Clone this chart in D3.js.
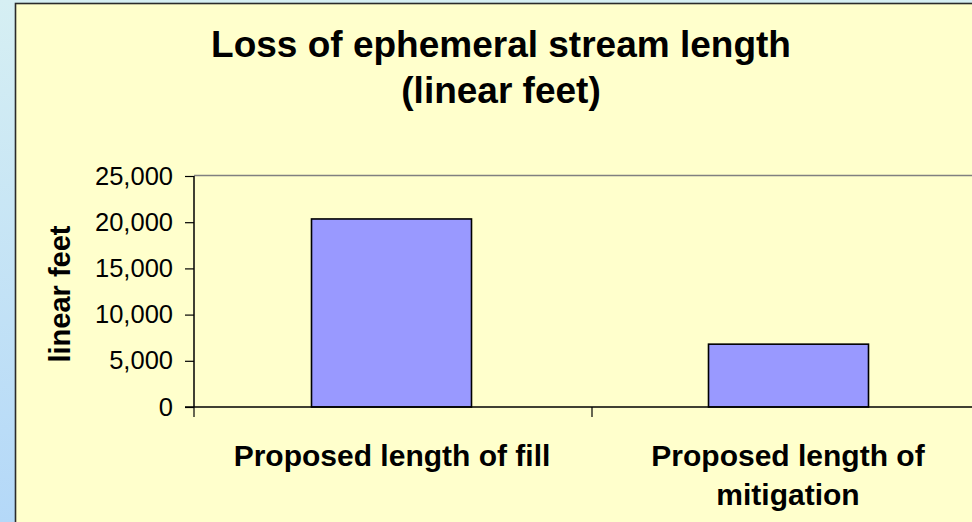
<!DOCTYPE html>
<head>
  <meta charset="utf-8">
  <title>Loss of ephemeral stream length</title>
  <style>
    body { margin: 0; width: 972px; height: 522px; overflow: hidden; }
    svg text { font-family: 'Liberation Sans', Arial, sans-serif; fill: #000; }
  </style>
</head>
<body>
  <script src="https://cdn.jsdelivr.net/npm/d3@7/dist/d3.min.js"></script>
  <script>
    // chart values
    var categories = [["Proposed length of fill"], ["Proposed length of", "mitigation"]];
    var values = [20350, 6800];
    var tickValues = [0, 5000, 10000, 15000, 20000, 25000];

    var W = 972, H = 522;
    var plot = { left: 194, right: 990, top: 176, bottom: 407 };

    var svg = d3.select("body").append("svg")
      .attr("width", W)
      .attr("height", H);

    //background gradient behind the chart panel
    var grad = svg.append("defs").append("linearGradient")
      .attr("id", "bg")
      .attr("x1", 0).attr("y1", 0).attr("x2", 0).attr("y2", 1);
    grad.append("stop").attr("offset", "0%").attr("stop-color", "#d6eff3");
    grad.append("stop").attr("offset", "100%").attr("stop-color", "#b4d8f8");

    svg.append("rect")
      .attr("width", W).attr("height", H)
      .attr("fill", "url(#bg)");

    //the yellow chart panel, runs off the right and bottom edge
    svg.append("rect")
      .attr("x", 15.5).attr("y", 3.5)
      .attr("width", W + 20).attr("height", H + 20)
      .attr("fill", "#ffffcc")
      .attr("stroke", "#2b2b2b")
      .attr("stroke-width", 1.6);

    var x = d3.scaleBand()
      .domain(d3.range(categories.length))
      .range([plot.left, plot.right])
      .paddingInner(0).paddingOuter(0);

    var y = d3.scaleLinear()
      .domain([0, 25000])
      .range([plot.bottom, plot.top]);

    //top border of the plot area
    svg.append("line")
      .attr("x1", plot.left).attr("x2", W)
      .attr("y1", y(25000) - 0.5).attr("y2", y(25000) - 0.5)
      .attr("stroke", "#808080")
      .attr("stroke-width", 1.5);

    //bars
    var barW = x.bandwidth() * 0.402;
    svg.selectAll(".bar")
      .data(values)
      .enter().append("rect")
      .attr("class", "bar")
      .attr("x", function (d, i) { return x(i) + x.bandwidth() / 2 - barW / 2 - 1.5 - i; })
      .attr("y", function (d) { return y(d); })
      .attr("width", barW)
      .attr("height", function (d) { return y(0) - y(d); })
      .attr("fill", "#9999ff")
      .attr("stroke", "#000")
      .attr("stroke-width", 1.6);

    //y axis
    var yAxis = d3.axisLeft(y)
      .tickValues(tickValues)
      .tickSize(9)
      .tickPadding(12)
      .tickFormat(d3.format(","));

    var gy = svg.append("g")
      .attr("transform", "translate(" + plot.left + ",0)")
      .call(yAxis);
    gy.select(".domain").remove();
    gy.selectAll(".tick line").attr("stroke", "#000").attr("stroke-width", 1.2);
    gy.selectAll("text")
      .style("font-size", "25.5px")
      .style("font-family", "'Liberation Sans', Arial, sans-serif")
      .attr("fill", "#000");

    svg.append("line")
      .attr("x1", plot.left).attr("x2", plot.left)
      .attr("y1", plot.top).attr("y2", plot.bottom)
      .attr("stroke", "#000").attr("stroke-width", 1.5);

    //x axis baseline and category ticks
    svg.append("line")
      .attr("x1", plot.left - 9).attr("x2", W)
      .attr("y1", y(0)).attr("y2", y(0))
      .attr("stroke", "#000").attr("stroke-width", 1.5);

    svg.selectAll(".ctick")
      .data(d3.range(categories.length + 1))
      .enter().append("line")
      .attr("class", "ctick")
      .attr("x1", function (d) { return plot.left + d * x.step(); })
      .attr("x2", function (d) { return plot.left + d * x.step(); })
      .attr("y1", y(0)).attr("y2", y(0) + 10)
      .attr("stroke", "#000").attr("stroke-width", 1.2);

    //category labels
    var lab = svg.selectAll(".cat")
      .data(categories)
      .enter().append("text")
      .attr("class", "cat")
      .attr("text-anchor", "middle")
      .style("font-size", "30px")
      .style("font-weight", "bold");
    lab.selectAll("tspan")
      .data(function (d, i) { return d.map(function (t) { return { t: t, i: i }; }); })
      .enter().append("tspan")
      .attr("x", function (d) { return x(d.i) + x.bandwidth() / 2 - 1 - 2 * d.i; })
      .attr("y", function (d, j) { return 466 + j * 39; })
      .text(function (d) { return d.t; });

    //y axis title
    svg.append("text")
      .attr("transform", "translate(70,294) rotate(-90)")
      .attr("text-anchor", "middle")
      .style("font-size", "29px")
      .style("font-weight", "bold")
      .text("linear feet");

    //chart title
    var title = svg.append("text")
      .attr("text-anchor", "middle")
      .style("font-size", "37px")
      .style("font-weight", "bold");
    title.append("tspan").attr("x", 501).attr("y", 57).text("Loss of ephemeral stream length");
    title.append("tspan").attr("x", 501).attr("y", 103).text("(linear feet)");
  </script>
</body>
